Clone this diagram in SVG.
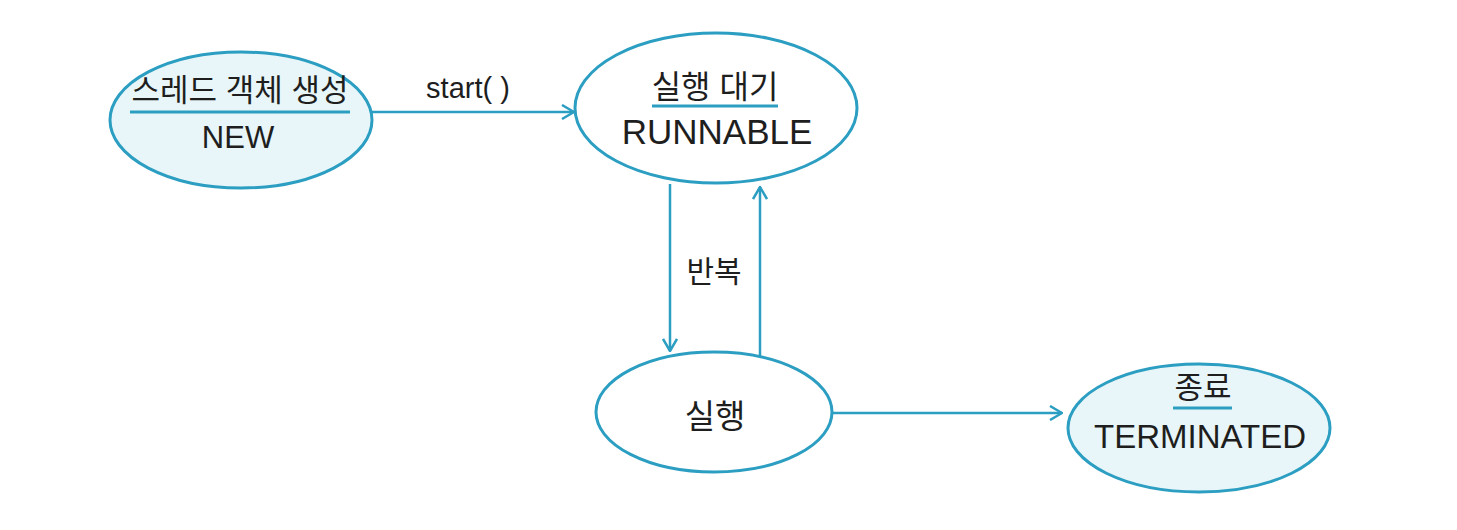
<svg xmlns="http://www.w3.org/2000/svg" width="1457" height="530" viewBox="0 0 1457 530">
<defs>
<style>
.node{stroke:#2b9ec2;stroke-width:3}
.fillb{fill:#e8f6f9}
.fillw{fill:#ffffff}
.t{font-family:"Liberation Sans","Noto Sans CJK KR",sans-serif;fill:#1e1e1e;text-anchor:middle}
.ul{stroke:#2b9ec2;stroke-width:3}
.c{stroke:#2b9ec2;stroke-width:2.5;fill:none}
</style>
<marker id="arr" viewBox="0 0 14 16" refX="13" refY="8" markerWidth="14" markerHeight="16" markerUnits="userSpaceOnUse" orient="auto">
<path d="M1,1 L13,8 L1,15" fill="none" stroke="#2b9ec2" stroke-width="2.5"/>
</marker>
</defs>
<rect width="1457" height="530" fill="#ffffff"/>
<g id="connectors">
<path class="c" d="M372,112 L574,112" marker-end="url(#arr)"/>
<path class="c" d="M670,184 L670,351" marker-end="url(#arr)"/>
<path class="c" d="M760,360 L760,187" marker-end="url(#arr)"/>
<path class="c" d="M832,413 L1062,413" marker-end="url(#arr)"/>
<text class="t" x="468" y="98" font-size="29">start( )</text>
<text class="t" x="714" y="282" font-size="30">반복</text>
</g>
<g id="node-new">
<ellipse class="node fillb" cx="241" cy="120" rx="131" ry="68"/>
<text class="t" x="240" y="101" font-size="31">스레드 객체 생성</text>
<line class="ul" x1="130" y1="112" x2="350" y2="112"/>
<text class="t" x="238" y="148" font-size="31">NEW</text>
</g>
<g id="node-runnable">
<ellipse class="node fillw" cx="716" cy="108" rx="141" ry="75"/>
<text class="t" x="715" y="98" font-size="32">실행 대기</text>
<line class="ul" x1="652" y1="106" x2="778" y2="106"/>
<text class="t" x="717" y="144" font-size="35">RUNNABLE</text>
</g>
<g id="node-running">
<ellipse class="node fillw" cx="714" cy="412" rx="118" ry="60"/>
<text class="t" x="715" y="428" font-size="33">실행</text>
</g>
<g id="node-terminated">
<ellipse class="node fillb" cx="1199" cy="428" rx="131" ry="64"/>
<text class="t" x="1203" y="398" font-size="31">종료</text>
<line class="ul" x1="1173" y1="408" x2="1232" y2="408"/>
<text class="t" x="1200" y="448" font-size="33">TERMINATED</text>
</g>
</svg>
